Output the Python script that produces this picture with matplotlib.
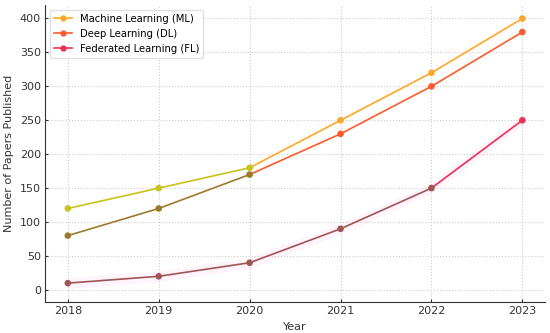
import numpy as np
import matplotlib
matplotlib.use("Agg")
import matplotlib.pyplot as plt

plt.rcParams.update({"font.size": 8, "axes.spines.top": False, "axes.spines.right": False})

years = [2018, 2019, 2020, 2021, 2022, 2023]
ml = [120, 150, 180, 250, 320, 400]
dl = [80, 120, 170, 230, 300, 380]
fl = [10, 20, 40, 90, 150, 250]

# point colours as they appear in the picture (early points look tinted)
ml_cols = ["#c8c21a", "#c8c21a", "#c8c21a", "#ffa726", "#ffa726", "#ffa726"]
dl_cols = ["#9c7a2c", "#9c7a2c", "#9c7a2c", "#ff5a2b", "#ff5a2b", "#ff5a2b"]
fl_cols = ["#a05555", "#a05555", "#a05555", "#a05555", "#a05555", "#ef2f55"]

fig = plt.figure(figsize=(5.5, 3.33), dpi=100)
ax = fig.add_axes([0.082, 0.093, 0.909, 0.892])

ax.fill_between(years, np.array(fl) - 8, np.array(fl) + 8, color="#ff66cc", alpha=0.07, lw=0)

for vals, cols, main, label in [(ml, ml_cols, "#ffa726", "Machine Learning (ML)"),
                                (dl, dl_cols, "#ff5a2b", "Deep Learning (DL)"),
                                (fl, fl_cols, "#ef2f55", "Federated Learning (FL)")]:
    for i in range(len(years) - 1):
        ax.plot(years[i:i + 2], vals[i:i + 2], color=cols[i + 1], lw=1.2, zorder=2)
    ax.scatter(years, vals, color=cols, s=14, zorder=3)
    ax.plot([], [], "o-", color=main, lw=1.2, ms=3.5, label=label)

ax.set_xlabel("Year", color="#333333", labelpad=4)
ax.set_ylabel("Number of Papers Published", color="#333333", labelpad=4)
ax.set_xticks(years)
ax.set_yticks(range(0, 401, 50))
ax.grid(True, ls=":", color="#cccccc", lw=0.8)
ax.tick_params(direction="in", length=2, pad=3, colors="#333333", labelsize=8)
for s in ["left", "bottom"]:
    ax.spines[s].set_color("#333333")
ax.legend(loc="upper left", fontsize=7.2, framealpha=0.9, edgecolor="#dddddd",
          borderaxespad=0.5, handlelength=1.8)

fig.savefig("out.png")
